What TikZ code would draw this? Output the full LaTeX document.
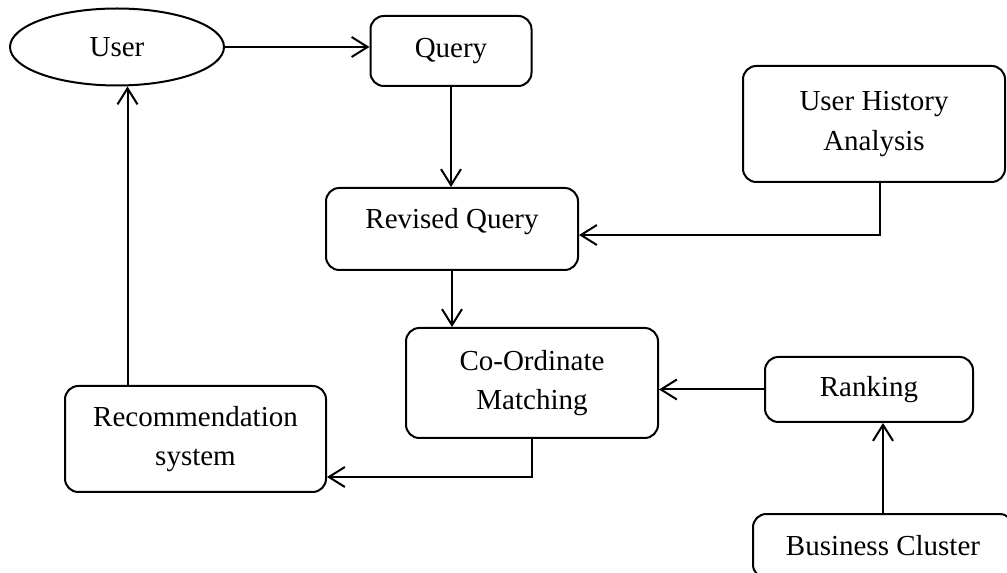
\documentclass[tikz,border=0pt]{standalone}
\usepackage{fontspec}
\setmainfont{Liberation Serif}
\usetikzlibrary{arrows.meta,positioning,calc,shapes.geometric}

\begin{document}
\begin{tikzpicture}[
    x=0.75pt, y=-0.75pt,
    block/.style={
        draw,
        line width=1.5pt,
        rounded corners=10pt,
        align=center,
        inner sep=0pt,
        font=\fontsize{21.75}{29.5}\selectfont
    },
    arrow/.style={-{Straight Barb[length=12pt, width=15pt]}, line width=1.5pt}
]

% Page frame
\path[use as bounding box, clip] (0,0) rectangle (1007,573);

% Boxes
\node[block, ellipse, rounded corners=0pt, minimum width=160.5pt, minimum height=57.75pt] (user) at (117,47) {User};

\node[block, minimum width=120.75pt, minimum height=52.5pt] (query) at (451,51) {Query};

\node[block, minimum width=189pt, minimum height=61.5pt, text depth=16pt] (revised) at (452,229) {Revised Query};

\node[block, minimum width=196.5pt, minimum height=87pt] (history) at (874,124) {User History\\Analysis};

\node[block, minimum width=189pt, minimum height=82.5pt] (coord) at (532,383) {Co-Ordinate\\Matching};

\node[block, minimum width=156pt, minimum height=48.75pt] (ranking) at (869,389.5) {Ranking};

\node[block, minimum width=195.75pt, minimum height=79.5pt] (rec) at (195.5,439) {Recommendation\\system};

\node[block, minimum width=195pt, minimum height=48pt] (cluster) at (883,546) {Business Cluster};

% Connectors
\draw[arrow] (user.east) -- (user.east -| query.west);
\draw[arrow] (query.south) -- (query.south |- revised.north);
\draw[arrow] ($(history.south)+(6,0)$) |- ($(revised.east)+(0,6)$);
\draw[arrow] (revised.south) -- (revised.south |- coord.north);
\draw[arrow] (ranking.west) -- (ranking.west -| coord.east);
\draw[arrow] (cluster.north) -- (cluster.north |- ranking.south);
\draw[arrow] (coord.south) |- ($(rec.east)+(0,38)$);
\coordinate (recout) at ($(rec.north)+(-68,0)$);
\draw[arrow] (recout) -- (recout |- user.south);

\end{tikzpicture}
\end{document}
